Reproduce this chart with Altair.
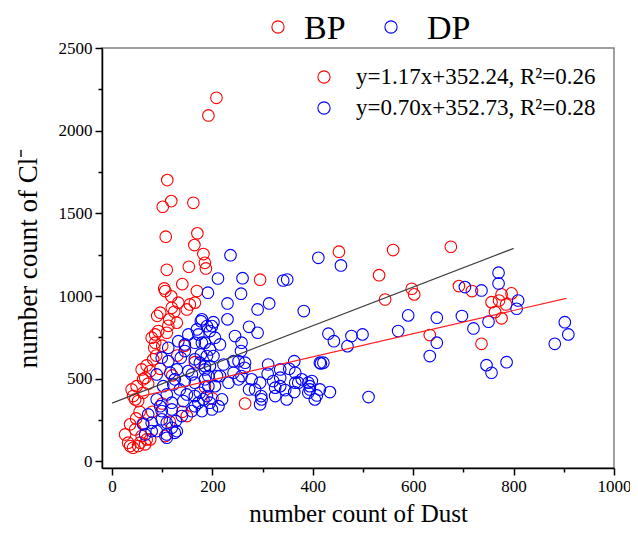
import altair as alt
import pandas as pd

# ---------------- data ----------------
groups = ["BP", "DP"]
group_colors = ["#FF0000", "#0000FF"]

bp_x = [208, 192, 110, 118, 101, 162, 107, 170, 164, 182, 185, 187, 109, 153, 140, 295, 104,
        106, 118, 96, 124, 114, 149, 165, 92, 86, 109, 129, 84, 82, 69, 59, 66, 49, 42, 52, 62,
        36, 46, 32, 42, 52, 66, 76, 59, 106, 96,
        149, 155, 119, 79, 86, 76, 62, 39, 46, 26, 36, 56, 69, 169,
        130, 145, 120, 165, 185, 100, 140, 200, 115, 80,
        72, 88, 100, 55, 48, 62, 90, 132, 112,
        265, 452, 560, 675, 532, 544, 597, 602, 691, 717, 776, 796, 756, 771, 785, 763, 776, 633, 736]
bp_y = [2199, 2092, 1701, 1574, 1540, 1564, 1359, 1379, 1308, 1254, 1201, 1167, 1159, 1177, 1072, 1099, 1046,
        1030, 998, 899, 905, 859, 919, 960, 788, 768, 778, 839, 687, 617, 580, 556, 506, 455, 395, 365, 415,
        224, 193, 113, 83, 93, 103, 133, 153, 153, 560,
        274, 949, 929, 748, 718, 546, 496, 435, 375, 163, 93, 113, 133, 1030,
        640, 700, 520, 600, 450, 350, 300, 380, 240, 300,
        470, 640, 700, 300, 260, 230, 880, 960, 820,
        350, 1268, 1278, 1298, 1126, 979, 1044, 1010, 1060, 1030, 1010, 1016, 963, 973, 949, 903, 865, 764, 711]

dp_x = [236, 211, 260, 341, 349, 411, 191, 257, 230, 313, 290, 382, 179, 202, 199, 230, 273, 290, 245, 169,
        179, 215, 195, 189, 257, 242, 264, 222, 195, 175, 363, 414, 311, 353, 310, 335, 295, 321, 325, 365,
        371, 394, 408, 345, 363, 348, 325, 297, 295, 273, 252, 232, 215, 192, 175, 195, 212, 199, 179, 421,
        456, 770, 770, 703, 736, 809, 806, 590, 647, 697, 750, 720, 570, 431, 442, 477, 499, 469, 647, 633,
        902, 909, 882, 746, 756, 786, 416, 511, 391, 394, 414, 434, 404, 391,
        177, 189, 195, 152, 145, 165, 185, 112, 145, 177, 129, 112, 116, 89, 152, 165, 185, 135, 149, 109,
        96, 72, 79, 66, 89, 109, 127, 129, 99, 119, 159, 165, 182, 137, 99, 145, 122, 109, 62, 109, 125,
        252, 265, 242, 258, 278, 285, 298, 335, 335, 365, 378, 398, 205, 219, 189, 172, 209, 185, 202, 205, 258,
        165, 185, 159, 125, 102, 89, 119, 142, 165, 99, 79, 119, 139, 192, 172, 132]
dp_y = [1247, 1106, 1108, 1094, 1100, 1231, 1020, 1014, 955, 955, 919, 909, 859, 842, 818, 859, 814, 778, 758, 798,
        718, 707, 677, 637, 667, 606, 566, 586, 576, 597, 606, 597, 586, 560, 530, 506, 476, 486, 446, 476,
        476, 455, 399, 431, 419, 375, 395, 395, 345, 435, 496, 476, 516, 516, 415, 355, 334, 314, 304, 597,
        1185, 1141, 1076, 1054, 1034, 973, 923, 883, 869, 879, 845, 804, 788, 772, 727, 758, 768, 697, 718, 637,
        842, 768, 711, 582, 536, 600, 592, 389, 476, 435, 435, 419, 375, 415,
        848, 818, 788, 768, 707, 718, 718, 687, 667, 647, 556, 606, 536, 526, 546, 476, 496, 435, 405, 405,
        334, 284, 234, 163, 183, 163, 244, 183, 304, 314, 304, 395, 375, 627, 627, 486, 465, 234, 224, 143, 173,
        606, 597, 536, 516, 496, 435, 375, 455, 556, 536, 496, 486, 455, 375, 395, 355, 516, 556, 637, 748, 718,
        617, 576, 526, 496, 455, 375, 355, 365, 334, 254, 183, 203, 274, 455, 768, 727]

fit_names = ["BP fit", "DP fit"]
fit_labels = ["y=1.17x+352.24, R\u00b2=0.26", "y=0.70x+352.73, R\u00b2=0.28"]
fit_slope = [1.17, 0.70]
fit_intercept = [352.24, 352.73]
fit_xmin = [0, 60]
fit_xmax = [800, 905]
fit_colors = ["#404040", "#FF2020"]

x_title = "number count of Dust"
y_title = "number count of Cl\u207b"

FONT = "Liberation Serif"

# ---------------- tables ----------------
pts = pd.DataFrame({
    "dust": bp_x + dp_x,
    "cl": bp_y + dp_y,
    "group": [groups[0]] * len(bp_x) + [groups[1]] * len(dp_x),
})

fit_rows = []
for name, s, b, x0, x1 in zip(fit_names, fit_slope, fit_intercept, fit_xmin, fit_xmax):
    for xv in (x0, x1):
        fit_rows.append({"fit": name, "slope": s, "intercept": b, "dust": xv})
fits = pd.DataFrame(fit_rows)

x_scale = alt.Scale(domain=[-20, 1000], nice=False, zero=False)
y_scale = alt.Scale(domain=[-40, 2500], nice=False, zero=False)

x_axis = alt.Axis(
    title=x_title,
    values=list(range(0, 1001, 100)),
    format="d",
    labelExpr="datum.value % 200 === 0 ? datum.label : ''",
    tickSize={"condition": {"test": "datum.value % 200 === 0", "value": 7}, "value": 4},
    labelFlush=False,
    labelOverlap=False,
    grid=False,
    labelPadding=3,
    titlePadding=7,
    titleFontSize=25,
)
y_axis = alt.Axis(
    title=y_title,
    values=list(range(0, 2501, 250)),
    format="d",
    labelExpr="datum.value % 500 === 0 ? datum.label : ''",
    tickSize={"condition": {"test": "datum.value % 500 === 0", "value": 7}, "value": 4},
    labelOverlap=False,
    grid=False,
    labelPadding=3,
    titlePadding=16,
    titleFontSize=27,
)

scatter = alt.Chart(pts).mark_point(
    shape="circle", filled=False, size=135, strokeWidth=1.1, opacity=1
).encode(
    x=alt.X("dust:Q", scale=x_scale, axis=x_axis),
    y=alt.Y("cl:Q", scale=y_scale, axis=y_axis),
    color=alt.Color("group:N", scale=alt.Scale(domain=groups, range=group_colors), legend=None),
)

lines = alt.Chart(fits).transform_calculate(
    cl="datum.slope * datum.dust + datum.intercept"
).mark_line(strokeWidth=1.2).encode(
    x=alt.X("dust:Q", scale=x_scale),
    y=alt.Y("cl:Q", scale=y_scale),
    detail="fit:N",
    stroke=alt.Stroke("fit:N", scale=alt.Scale(domain=fit_names, range=fit_colors), legend=None),
)

# ---------------- legends (drawn as marks) ----------------
def sym(color, px, py, size):
    return alt.Chart(pd.DataFrame({"k": [0]})).mark_point(
        shape="circle", filled=False, size=size, strokeWidth=1.1, color=color, opacity=1
    ).encode(x=alt.value(px), y=alt.value(py))

def label(text, px, py, fs):
    return alt.Chart(pd.DataFrame({"label": [text]})).mark_text(
        align="left", baseline="middle", font=FONT, fontSize=fs, color="black"
    ).encode(text="label:N", x=alt.value(px), y=alt.value(py))

top_legend = [
    sym(group_colors[0], 176, -21, 150), label(groups[0], 202, -19, 34),
    sym(group_colors[1], 289, -21, 150), label(groups[1], 325, -19, 34),
]
inner_legend = [
    sym(group_colors[0], 222, 29, 150), label(fit_labels[0], 254, 29, 23),
    sym(group_colors[1], 222, 60, 150), label(fit_labels[1], 254, 60, 23),
]

chart = alt.layer(scatter, lines, *top_legend, *inner_legend).properties(
    width=512, height=420,
    background="white",
    autosize=alt.AutoSizeParams(type="none"),
    padding={"left": 94, "top": 40, "right": 16, "bottom": 64},
).configure_view(
    stroke="#808080", strokeWidth=1.5
).configure_axis(
    labelFont=FONT, titleFont=FONT, labelFontSize=17,
    titleFontWeight="normal", labelColor="black", titleColor="black",
    domainColor="black", domainWidth=1.5, tickColor="black", tickWidth=1.5,
)

chart.save("out.html", embed_options={"renderer": "svg", "actions": False})
